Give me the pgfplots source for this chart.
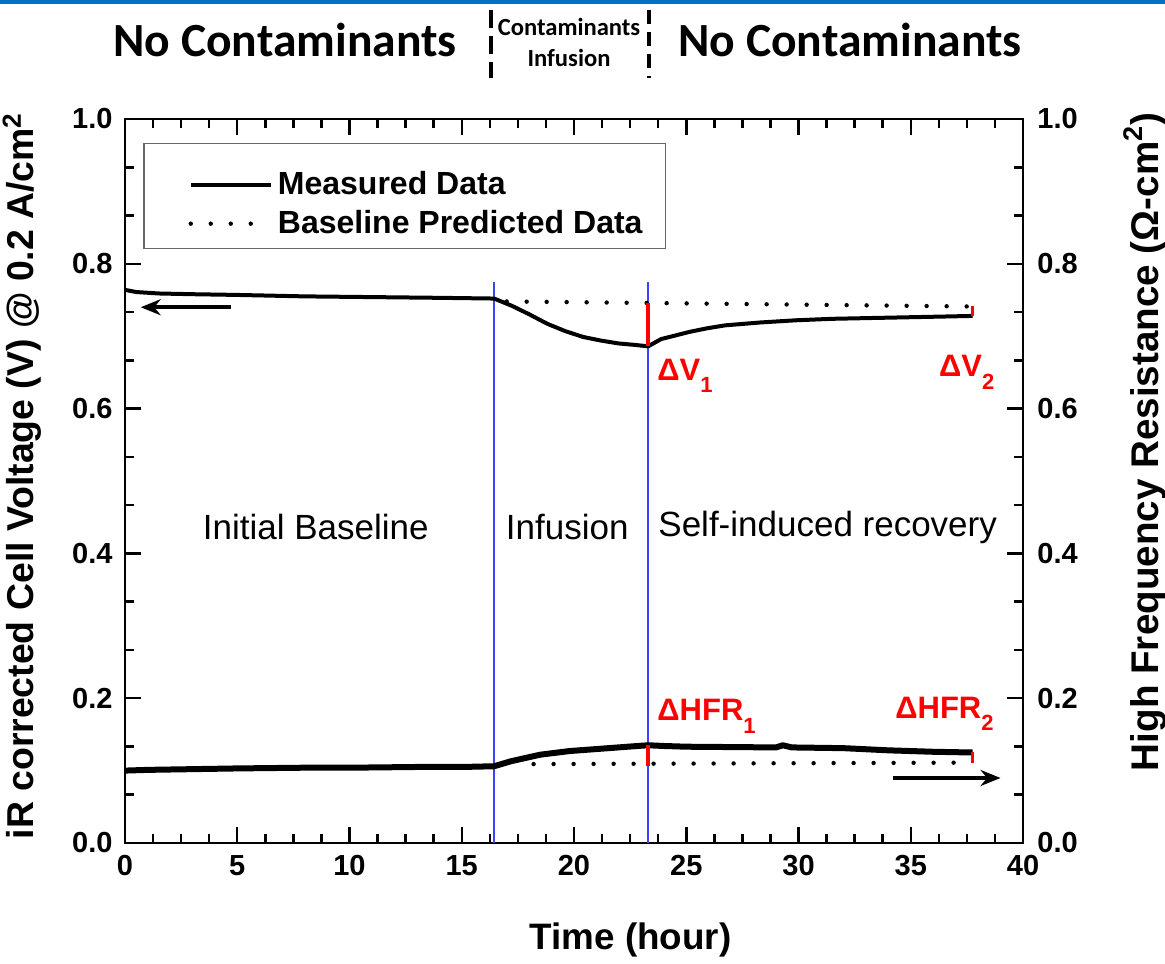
\documentclass[border=0pt]{standalone}
\usepackage{pgfplots}
\pgfplotsset{compat=1.18}
\usepackage{fontspec}
\setmainfont{Liberation Sans}
\newfontfamily\carlito{Carlito}
\usetikzlibrary{arrows.meta}
\definecolor{topblue}{HTML}{0070C0}
\definecolor{vblue}{HTML}{4040FF}
\definecolor{mred}{HTML}{FF0000}

\pgfplotstableread{
t v
0 0.764
0.5 0.761
1.5 0.759
3 0.758
5 0.757
8 0.755
11 0.754
14 0.753
16.44 0.752
17.23 0.742
18.02 0.730
18.82 0.717
19.61 0.707
20.40 0.699
21.19 0.694
21.98 0.690
22.70 0.688
23.30 0.686
23.88 0.696
25.15 0.706
25.94 0.711
26.74 0.715
28.32 0.719
29.90 0.722
31.49 0.724
33.07 0.725
34.66 0.726
36.24 0.727
37.75 0.728
}\voltmeas

\pgfplotstableread{
t v
17.0 0.748
37.75 0.741
}\voltbase

\pgfplotstableread{
t r
0 0.100
1 0.101
3 0.102
5 0.103
8 0.104
10 0.104
13 0.105
15 0.105
16.44 0.106
17.2 0.113
18.5 0.122
19.8 0.127
21.1 0.130
22.4 0.133
23.3 0.135
24.0 0.134
25.0 0.133
27.0 0.1325
29.0 0.132
29.3 0.135
29.7 0.132
32.0 0.131
34.0 0.128
36.0 0.126
37.75 0.125
}\hfrmeas

\pgfplotstableread{
t r
18.2 0.109
37.75 0.111
}\hfrbase

\begin{document}
\begin{tikzpicture}
\useasboundingbox (-62.5pt,-60pt) rectangle (520pt,421.5pt);
\fill[topblue] (-62.5pt,419.5pt) rectangle (520pt,421.5pt);
\node[font=\carlito\bfseries\fontsize{23.8}{28}\selectfont] at (80pt,401.5pt) {No Contaminants};
\node[font=\carlito\bfseries\fontsize{23.8}{28}\selectfont] at (362.5pt,401.5pt) {No Contaminants};
\node[font=\carlito\bfseries\fontsize{12.3}{14}\selectfont] at (222pt,408pt) {Contaminants};
\node[font=\carlito\bfseries\fontsize{12.3}{14}\selectfont] at (222pt,392.5pt) {Infusion};
\draw[line width=2.2pt, dash pattern=on 9pt off 4pt] (183pt,416.5pt) -- (183pt,382.5pt);
\draw[line width=2.2pt, dash pattern=on 7pt off 4pt] (262pt,416.5pt) -- (262pt,382.5pt);

\pgfplotsset{common/.style={
  scale only axis, width=449pt, height=362pt,
  xmin=0, xmax=40, ymin=0, ymax=1,
  axis line style={line width=1.25pt},
  every tick/.style={black, line width=1.25pt},
  major tick length=8pt, minor tick length=4.5pt,
  xtick={0,5,...,40}, minor x tick num=3,
  ytick={0,0.2,0.4,0.6,0.8,1.0}, minor y tick num=2,
  /pgf/number format/assume math mode=true,
  ticklabel style={font=\bfseries\fontsize{14.5}{17}\selectfont},
  yticklabel style={/pgf/number format/fixed, /pgf/number format/fixed zerofill, /pgf/number format/precision=1},
  xticklabel style={yshift=-2.5pt},
}}
\pgfplotsset{myleg/.style={legend image code/.code={%
  \draw[draw=none] (0pt,-4pt) -- (12pt,-4pt);
  \draw[##1] (12pt,-4pt) -- (52pt,-4pt);}}}

\begin{axis}[common,
  yticklabel style={xshift=-2.7pt},
  xlabel={Time (hour)},
  xlabel style={at={(axis description cs:0.563,-0.134)}, anchor=center, font=\bfseries\fontsize{18.4}{22}\selectfont},
  ylabel={iR corrected Cell Voltage (V) @ 0.2 A/cm\textsuperscript{2}},
  ylabel style={at={(axis description cs:-0.1147,0.507)}, anchor=center, font=\bfseries\fontsize{18.7}{22}\selectfont},
  legend style={at={(axis description cs:0.02,0.967)}, anchor=north west,
    draw=black!60, line width=0.8pt, fill=white,
    font=\bfseries\fontsize{16}{18}\selectfont,
    nodes={inner sep=0pt, text height=17.6pt, text depth=0pt},
    inner xsep=11.5pt, inner ysep=7.7pt, row sep=1.9pt,
    /tikz/every odd column/.append style={column sep=2.5pt}},
  legend cell align=left,
]
% blue separators
\addplot[vblue, line width=0.8pt, forget plot] coordinates {(16.44,0) (16.44,0.775)};
\addplot[vblue, line width=0.8pt, forget plot] coordinates {(23.30,0) (23.30,0.775)};

\addplot[black, line width=2pt, line join=round, myleg] table[x=t,y=v] {\voltmeas};
\addlegendentry{Measured Data}
\addplot[black, line width=2.2pt, line cap=round, dash pattern=on 0pt off 10pt, myleg] table[x=t,y=v] {\voltbase};
\addlegendentry{Baseline Predicted Data}

% red delta markers (voltage)
\addplot[mred, line width=1.6pt, forget plot] coordinates {(23.30,0.746) (23.30,0.687)};
\addplot[mred, line width=1.6pt, forget plot] coordinates {(37.75,0.742) (37.75,0.728)};

\node[mred, anchor=west, font=\bfseries\fontsize{15.5}{18}\selectfont] at (axis cs:23.4,0.645) {ΔV\raisebox{-0.4em}{\fontsize{11}{11}\selectfont 1}};
\node[mred, anchor=west, font=\bfseries\fontsize{15.5}{18}\selectfont] at (axis cs:35.95,0.650) {ΔV\raisebox{-0.4em}{\fontsize{11}{11}\selectfont 2}};
\node[mred, anchor=west, font=\bfseries\fontsize{15.5}{18}\selectfont] at (axis cs:23.4,0.175) {ΔHFR\raisebox{-0.4em}{\fontsize{11}{11}\selectfont 1}};
\node[mred, anchor=west, font=\bfseries\fontsize{15.5}{18}\selectfont] at (axis cs:34.0,0.178) {ΔHFR\raisebox{-0.4em}{\fontsize{11}{11}\selectfont 2}};

\node[font=\fontsize{17.5}{20}\selectfont] at (axis cs:8.5,0.436) {Initial Baseline};
\node[font=\fontsize{17.5}{20}\selectfont] at (axis cs:19.7,0.436) {Infusion};
\node[font=\fontsize{17.5}{20}\selectfont] at (axis cs:31.3,0.436) {Self-induced recovery};

\draw[black, line width=2pt, -{Stealth[length=10pt,width=8pt]}] (axis cs:4.7,0.740) -- (axis cs:0.7,0.740);
\draw[black, line width=2pt, -{Stealth[length=10pt,width=8pt]}] (axis cs:34.2,0.0898) -- (axis cs:39.0,0.0898);
\end{axis}

\begin{axis}[common,
  axis y line*=right, axis x line=none,
  yticklabel style={xshift=3.7pt},
  ylabel={High Frequency Resistance (Ω-cm\textsuperscript{2})},
  ylabel style={at={(axis description cs:1.136,0.554)}, anchor=center, rotate=0, font=\bfseries\fontsize{19.3}{22}\selectfont},
]
\addplot[black, line width=3pt, line join=round] table[x=t,y=r] {\hfrmeas};
\addplot[black, line width=2.2pt, line cap=round, dash pattern=on 0pt off 10pt] table[x=t,y=r] {\hfrbase};
\addplot[mred, line width=1.6pt] coordinates {(23.30,0.107) (23.30,0.135)};
\addplot[mred, line width=1.6pt] coordinates {(37.75,0.110) (37.75,0.126)};
\end{axis}
\end{tikzpicture}
\end{document}
